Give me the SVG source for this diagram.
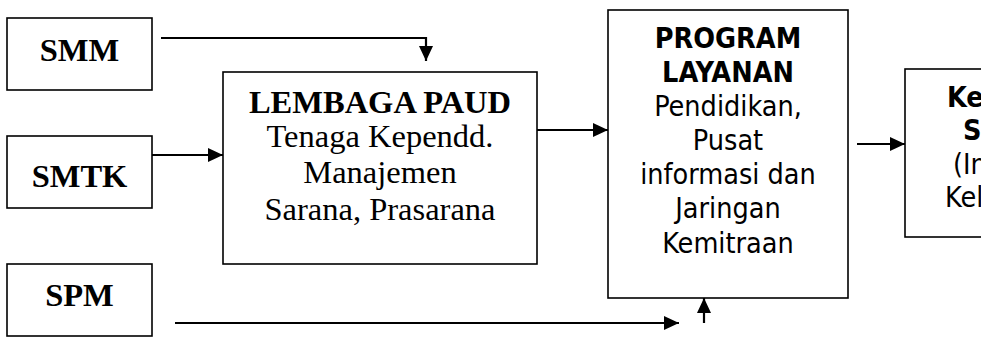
<svg xmlns="http://www.w3.org/2000/svg" width="981" height="337" viewBox="0 0 981 337">
<style>
.box{fill:#fff;stroke:#000;stroke-width:1.6}
.ser{font-family:"Liberation Serif","Times New Roman",serif;font-size:32.5px;fill:#000;text-anchor:middle}
.b{font-weight:bold}
.san{font-family:"DejaVu Sans Condensed","DejaVu Sans",sans-serif;font-stretch:condensed;font-size:28.5px;fill:#000;text-anchor:middle}
.sanl{font-family:"DejaVu Sans Condensed","DejaVu Sans",sans-serif;font-stretch:condensed;font-size:28.5px;fill:#000}
.con{fill:none;stroke:#000;stroke-width:2.2}
</style>
<defs>
<marker id="ah" markerUnits="userSpaceOnUse" markerWidth="16" markerHeight="16" viewBox="0 0 16 16" refX="15" refY="8" orient="auto">
<path d="M0,1 L15,8 L0,15 Z" fill="#000"/>
</marker>
</defs>
<g id="smm"><rect class="box" x="7" y="18" width="145" height="72"/><text class="ser b" x="79.5" y="61">SMM</text></g>
<g id="smtk"><rect class="box" x="7" y="136" width="145" height="72"/><text class="ser b" x="79.5" y="187">SMTK</text></g>
<g id="spm"><rect class="box" x="7" y="264" width="145" height="72"/><text class="ser b" x="79.5" y="306">SPM</text></g>
<g id="lembaga"><rect class="box" x="223" y="72" width="314" height="192"/>
<text class="ser b" x="380" y="113">LEMBAGA PAUD</text>
<text class="ser" x="380" y="147">Tenaga Kependd.</text>
<text class="ser" x="380" y="183">Manajemen</text>
<text class="ser" x="380" y="220">Sarana, Prasarana</text></g>
<g id="program"><rect class="box" x="608" y="10" width="240" height="288"/>
<text class="san b" x="728" y="48">PROGRAM</text>
<text class="san b" x="728" y="82">LAYANAN</text>
<text class="san" x="728" y="116">Pendidikan,</text>
<text class="san" x="728" y="150">Pusat</text>
<text class="san" x="728" y="184">informasi dan</text>
<text class="san" x="728" y="218">Jaringan</text>
<text class="san" x="728" y="253">Kemitraan</text></g>
<g id="kepuasan"><rect class="box" x="905" y="69" width="90" height="168"/>
<text class="sanl b" x="947" y="107">Ke</text>
<text class="sanl b" x="963" y="140">Sa</text>
<text class="sanl" x="953" y="174">(In</text>
<text class="sanl" x="945" y="207">Kel</text></g>
<g id="connectors">
<path class="con" d="M161,38 H426 V61" marker-end="url(#ah)"/>
<path class="con" d="M152,155 H223" marker-end="url(#ah)"/>
<path class="con" d="M537,130 H608" marker-end="url(#ah)"/>
<path class="con" d="M857,144 H905" marker-end="url(#ah)"/>
<path class="con" d="M175,323 H679" marker-end="url(#ah)"/>
<path class="con" d="M704,323 V298" marker-end="url(#ah)"/>
</g>
</svg>
